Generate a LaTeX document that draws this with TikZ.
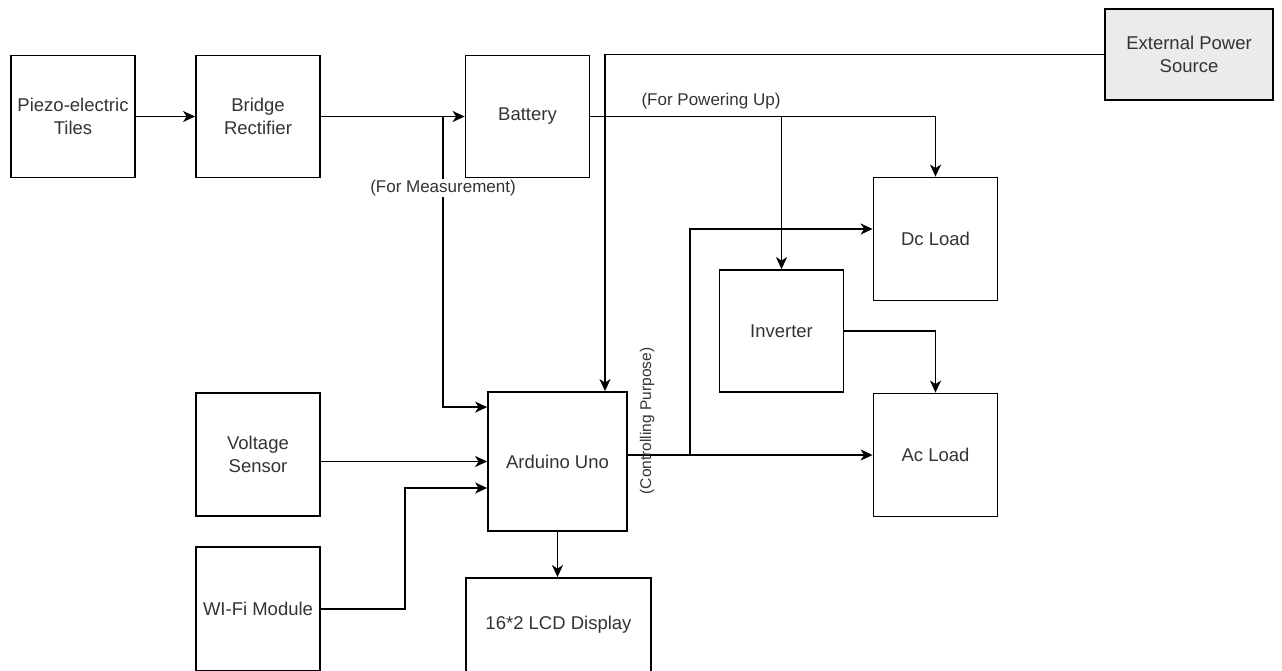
\documentclass[tikz,border=0pt]{standalone}
\usepackage{fontspec}
\setmainfont{Liberation Sans}
\usetikzlibrary{arrows.meta}
\tikzset{>={Stealth[length=12pt,width=11pt,inset=3.5pt]}}
\colorlet{txtcol}{black!80}
\colorlet{extfill}{black!8}
\tikzset{
    block/.style={draw, line width=1.8pt, minimum width=124pt, minimum height=122pt,
        align=center, text=txtcol, inner sep=2pt, font=\fontsize{18.5}{22.5}\selectfont},
    note/.style={text=txtcol, inner sep=1pt, font=\fontsize{17}{20}\selectfont},
}

\begin{document}
\begin{tikzpicture}[x=1pt, y=-1pt, line width=1.8pt]
    \useasboundingbox (0,0) rectangle (1282,670);

    \node [block] (piezo) at (73,116.5) {Piezo-electric\\Tiles};
    \node [block] (bridge) at (258,116.5) {Bridge\\Rectifier};
    \node [block] (battery) at (527.5,116.5) {Battery};
    \node [block, fill=extfill, minimum width=168pt, minimum height=91pt] (ext) at (1189,54.5) {External Power\\Source};
    \node [block, minimum height=123pt] (dcload) at (935.5,239) {Dc Load};
    \node [block] (inverter) at (781.5,331) {Inverter};
    \node [block, minimum height=123pt] (acload) at (935.5,455) {Ac Load};
    \node [block, minimum width=139pt, minimum height=139pt] (arduino) at (557.5,461.5) {Arduino Uno};
    \node [block, minimum height=123pt] (vsensor) at (258,454.5) {Voltage\\Sensor};
    \node [block, minimum height=124pt] (wifi) at (258,609) {WI-Fi Module};
    \node [block, minimum width=185pt, minimum height=94pt] (lcd) at (558.5,625) {16*2 LCD Display};

    \coordinate (jm) at (443,116.5);
    \coordinate (jc) at (690,455);
    \coordinate (wbend) at (405,560);

    \draw [->] (piezo) -- (bridge);
    \draw [->] (bridge) -- (battery);
    \draw [->] (jm) |- ([yshift=-16pt]arduino.north west);
    \draw [->] (ext) -| ([xshift=47.5pt]arduino.north);
    \draw [->] (battery) -| (dcload);
    \draw [->] (battery.east -| inverter.north) -- (inverter);
    \draw [->] (inverter) -| (acload);
    \draw [->] (arduino.east |- acload.west) -- (acload);
    \draw [->] (jc) |- ([yshift=10pt]dcload.west);
    \draw [->] (vsensor.east |- arduino.west) -- (arduino);
    \draw [->] (wifi) -| (wbend) |- ([yshift=-26.5pt]arduino.west);
    \draw [->] (arduino) -- (arduino.south |- lcd.north);

    \node [note, fill=white] (meas) at (443,188) {(For Measurement)};
    \node [note] (pwr) at (711,101) {(For Powering Up)};
    \node [note, rotate=90, font=\fontsize{15.5}{18}\selectfont] (ctrl) at (647,421) {(Controlling Purpose)};
\end{tikzpicture}
\end{document}
